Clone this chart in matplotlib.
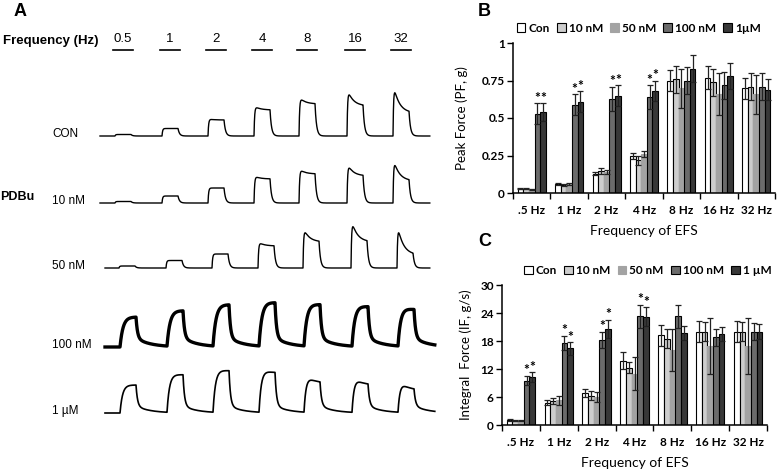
import numpy as np
import matplotlib
matplotlib.use('Agg')
import matplotlib.pyplot as plt
from matplotlib.patches import Patch

W, H = 778, 475

# ---- Panel A: Kraft-Spuren (relative Einheiten) ----
freq_labels = ['0.5', '1', '2', '4', '8', '16', '32']
row_names = ['CON', '10 nM', '50 nM', '100 nM', '1 µM']
# Spitzenkraft und Kraft am Stimulusende je Puls
trace_peak = [
    [1.5, 7.5, 17, 30, 39, 48, 54],
    [1.5, 7.0, 15, 27, 34, 40, 46],
    [2.0, 7.5, 14, 26, 41, 50, 46],
    [30, 36, 42, 46, 45, 44, 44],
    [28, 39, 44, 47, 45, 43, 39],
]
trace_end = [
    [1.5, 7.5, 16, 26, 32, 30, 23],
    [1.5, 7.0, 15, 24, 29, 27, 22],
    [2.0, 7.5, 14, 22, 26, 26, 13],
    [30, 36, 42, 44, 42, 40, 37],
    [28, 38, 42, 40, 30, 28, 23],
]
trace_rise = [0.6, 0.6, 0.6, 3.0, 2.5]
trace_tail = [0, 0, 0, 9, 7]

# ---- Panel B / C ----
groups = ['.5 Hz', '1 Hz', '2 Hz', '4 Hz', '8 Hz', '16 Hz', '32 Hz']
series_b = ['Con', '10 nM', '50 nM', '100 nM', '1µM']
series_c = ['Con', '10 nM', '50 nM', '100 nM', '1 µM']
colors = ['#ffffff', '#cdcdcd', '#a3a3a3', '#6b6b6b', '#383838']
edges = ['black', 'black', '#a3a3a3', 'black', 'black']

pf_mean = [
    [0.03, 0.06, 0.13, 0.25, 0.75, 0.77, 0.70],
    [0.03, 0.055, 0.15, 0.22, 0.76, 0.74, 0.71],
    [0.025, 0.06, 0.14, 0.26, 0.70, 0.66, 0.66],
    [0.53, 0.59, 0.63, 0.64, 0.75, 0.72, 0.71],
    [0.54, 0.61, 0.65, 0.68, 0.83, 0.78, 0.69],
]
pf_err = [
    [0.005, 0.005, 0.01, 0.02, 0.07, 0.08, 0.07],
    [0.005, 0.005, 0.02, 0.03, 0.09, 0.09, 0.09],
    [0.005, 0.005, 0.015, 0.02, 0.13, 0.14, 0.13],
    [0.07, 0.07, 0.08, 0.08, 0.09, 0.09, 0.09],
    [0.06, 0.07, 0.07, 0.07, 0.09, 0.09, 0.07],
]
if_mean = [
    [1.0, 4.8, 6.8, 13.8, 19.2, 20.0, 20.0],
    [0.9, 5.2, 6.3, 12.3, 18.5, 20.0, 20.0],
    [0.9, 5.3, 6.0, 11.0, 16.0, 17.0, 17.0],
    [9.5, 17.6, 18.2, 23.3, 23.3, 18.8, 20.0],
    [10.3, 16.4, 20.6, 23.2, 19.7, 19.6, 20.0],
]
if_err = [
    [0.2, 0.6, 0.9, 1.8, 2.3, 2.3, 2.2],
    [0.1, 0.6, 0.9, 1.2, 2.0, 2.0, 2.0],
    [0.1, 1.0, 1.0, 3.5, 4.5, 6.0, 6.0],
    [1.0, 1.5, 1.8, 2.5, 2.5, 1.8, 1.8],
    [1.0, 1.3, 2.0, 2.0, 1.5, 1.5, 1.6],
]
sig_groups = [0, 1, 2, 3]

fig = plt.figure(figsize=(W / 100, H / 100), dpi=100)

# ---------- Panel A ----------
ax = fig.add_axes([0, 0, 470 / W, 1])
ax.set_xlim(0, 470)
ax.set_ylim(H, 0)
ax.axis('off')

starts = [115, 162, 208, 254, 299, 347, 393]
dur = 16
baselines = [136, 203, 268, 347, 413]
offsets = [0, 0, 4, 5, 5]
x_from = [100, 100, 105, 105, 105]
x_to = [430, 430, 430, 435, 435]
lws = [1.0, 1.0, 1.0, 2.4, 1.2]

for r in range(5):
    t = np.arange(x_from[r], x_to[r], 0.2)
    y = np.zeros_like(t)
    for k in range(7):
        t0 = starts[k] + offsets[r]
        t1 = t0 + dur
        p, e = trace_peak[r][k], trace_end[r][k]
        rise = trace_rise[r]
        on = (t >= t0) & (t < t1)
        s = t[on] - t0
        lvl = e + (p - e) * np.exp(-s / (dur * 0.35))
        y[on] += lvl * (1 - np.exp(-s / rise))
        v1 = (e + (p - e) * np.exp(-1 / 0.35)) * (1 - np.exp(-dur / rise))
        off = t >= t1
        s2 = t[off] - t1
        tail = min(trace_tail[r], v1)
        y[off] += (v1 - tail) * np.exp(-s2 / 1.5) + tail * np.exp(-s2 / 14)
    ax.plot(t, baselines[r] - y, color='black', lw=lws[r], solid_joinstyle='round')

fa = 'Liberation Sans'
ax.text(14, 12, 'A', fontsize=13, fontweight='bold', family=fa, va='center')
ax.text(3, 41, 'Frequency (Hz)', fontsize=9.5, fontweight='bold', family=fa, va='center')
for k, lab in enumerate(freq_labels):
    cx = starts[k] + 8
    ax.text(cx, 39, lab, fontsize=9.5, family=fa, ha='center', va='center')
    ax.plot([cx - 10, cx + 10], [50, 50], color='black', lw=1.2)
for r, name in enumerate(row_names):
    ax.text(52, baselines[r] - 2, name, fontsize=8.5, family=fa, va='center')
ax.text(0, 197, 'PDBu', fontsize=9, fontweight='bold', family=fa, va='center')

# ---------- Panels B and C ----------
fb = 'Lato'


def bar_panel(rect, means, errs, names, ylim, yticks, yticklabels, ylabel, star_gap, labelpad, leg_x):
    bx = fig.add_axes(rect)
    x = np.arange(len(groups))
    bw = 0.15
    for i in range(5):
        xs = x + (i - 2) * bw
        bx.bar(xs, means[i], bw, color=colors[i], edgecolor=edges[i], lw=0.8, zorder=2)
        bx.errorbar(xs, means[i], yerr=errs[i], fmt='none', ecolor='#222222',
                    elinewidth=0.9, capsize=2, capthick=0.9, zorder=3)
    for g in sig_groups:
        for i in (3, 4):
            xs = x[g] + (i - 2) * bw
            bx.text(xs, means[i][g] + errs[i][g] + star_gap, '*', ha='center', va='center',
                    fontsize=10, fontweight='bold', family=fb)
    bx.set_xlim(-0.5, len(groups) - 0.5)
    bx.set_ylim(*ylim)
    bx.set_yticks(yticks)
    bx.set_yticklabels(yticklabels)
    bx.set_xticks(x)
    bx.set_xticklabels(groups)
    bx.set_xticks(np.arange(-0.5, len(groups)), minor=True)
    bx.tick_params(axis='x', which='major', length=0, pad=9)
    bx.tick_params(axis='x', which='minor', length=4, width=1, direction='out')
    bx.tick_params(axis='y', length=4, width=1, direction='out', pad=2)
    for lab in bx.get_xticklabels() + bx.get_yticklabels():
        lab.set_fontweight('bold')
        lab.set_fontsize(8.5)
        lab.set_family(fb)
    for sp in ('top', 'right'):
        bx.spines[sp].set_visible(False)
    for sp in ('left', 'bottom'):
        bx.spines[sp].set_linewidth(1.1)
    bx.set_xlabel('Frequency of EFS', fontsize=10, family=fb, labelpad=6)
    bx.set_ylabel(ylabel, fontsize=9.5, family=fb, labelpad=labelpad)
    handles = [Patch(facecolor=colors[i], edgecolor=edges[i], lw=0.8, label=names[i]) for i in range(5)]
    bx.legend(handles=handles, ncol=5, loc='lower center', bbox_to_anchor=(leg_x, 1.03),
              frameon=False, handlelength=0.75, handleheight=0.75, handletextpad=0.25,
              columnspacing=0.6, borderaxespad=0,
              prop={'family': fb, 'weight': 'bold', 'size': 8.5})
    return bx


bar_panel([513 / W, 1 - 193 / H, 262 / W, 150 / H], pf_mean, pf_err, series_b,
          (0, 1), [0, 0.25, 0.5, 0.75, 1], ['0', '0.25', '0.5', '0.75', '1'],
          'Peak Force (PF, g)', 0.035, 10, 0.48)
bar_panel([502 / W, 1 - 425 / H, 265 / W, 140 / H], if_mean, if_err, series_c,
          (0, 30), [0, 6, 12, 18, 24, 30], ['0', '6', '12', '18', '24', '30'],
          'Integral  Force (IF, g/s)', 1.2, 6, 0.55)

fig.text(478 / W, 1 - 12 / H, 'B', fontsize=13, fontweight='bold', family=fa, va='center')
fig.text(478 / W, 1 - 241 / H, 'C', fontsize=13, fontweight='bold', family=fa, va='center')

fig.savefig('out.png', dpi=100)
